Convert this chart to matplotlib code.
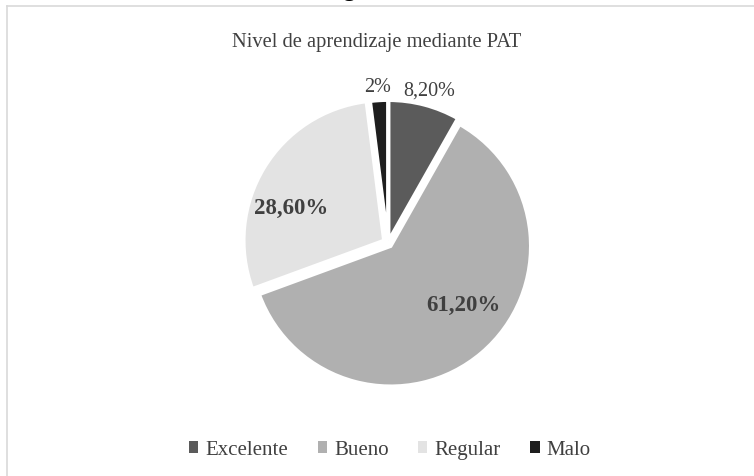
import matplotlib.pyplot as plt
from matplotlib.lines import Line2D
import numpy as np

plt.rcParams['font.family'] = ['Liberation Serif', 'DejaVu Serif']

categories = ['Excelente', 'Bueno', 'Regular', 'Malo']
values = [8.2, 61.2, 28.6, 2.0]
labels = ['8,20%', '61,20%', '28,60%', '2%']
colors = ['#5b5b5b', '#b0b0b0', '#e3e3e3', '#1e1e1e']

W, H = 754, 477
fig = plt.figure(figsize=(W / 100, H / 100), dpi=100)

# pie placed by pixel: centre and radius
cx, cy, r = 388, 244, 140
ax = fig.add_axes([0, 0, 1, 1])

wedges, _ = ax.pie(values, colors=colors, startangle=90, counterclock=False,
                   explode=[0.02, 0.03, 0.035, 0.02],
                   wedgeprops=dict(edgecolor='white', linewidth=2.5))
# pie() resets the limits, so set them afterwards
ax.set_xlim(-cx / r, (W - cx) / r)
ax.set_ylim(-(H - cy) / r, cy / r)
ax.axis('off')

# label placement: distance from centre (in radii), angle nudge, bold
label_dist = [1.13, 0.69, 0.74, 1.12]
label_nudge = [-0.5, 10.5, 11.0, 0.3]
label_bold = [False, True, True, False]
for w, lab, d, dn, b in zip(wedges, labels, label_dist, label_nudge, label_bold):
    th = np.deg2rad((w.theta1 + w.theta2) / 2 + dn)
    ax.text(d * np.cos(th), d * np.sin(th), lab, ha='center', va='center',
            fontsize=16.5 if b else 14.5, fontweight='bold' if b else 'normal',
            color='#404040')

# title + cut-off caption above the frame
fig.text(377 / W, 1 - 42 / H, 'Nivel de aprendizaje mediante PAT',
         ha='center', va='center', fontsize=14.8, color='#404040')
fig.text(373 / W, 1 + 4 / H, 'Figura 10.', ha='center', va='baseline',
         fontsize=16, fontweight='bold', color='black')

# frame of the chart area
fig.add_artist(Line2D([7 / W, 7 / W], [0, 1 - 7 / H], color='#d9d9d9', lw=1.2))
fig.add_artist(Line2D([7 / W, 1], [1 - 7 / H, 1 - 7 / H], color='#d9d9d9', lw=1.2))

handles = [plt.Rectangle((0, 0), 1, 1, facecolor=c) for c in colors]
fig.legend(handles, categories, loc='center', bbox_to_anchor=(390 / W, 1 - 451 / H),
           ncol=4, frameon=False, fontsize=15, handlelength=0.45, handleheight=0.45,
           handletextpad=0.35, columnspacing=1.4, labelcolor='#404040')

fig.savefig('out.png', dpi=100)
